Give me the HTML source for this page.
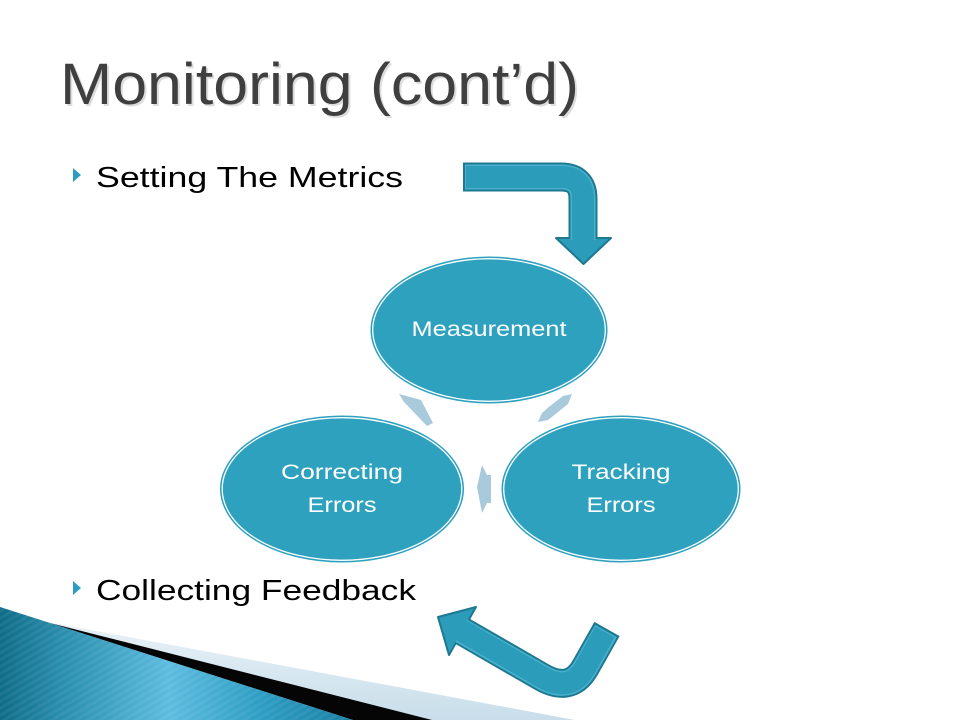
<!DOCTYPE html>
<html>
<head>
<meta charset="utf-8">
<style>
  html,body{margin:0;padding:0;background:#fff;}
  body{width:960px;height:720px;overflow:hidden;}
  svg{display:block;}
  text{font-family:"Liberation Sans","DejaVu Sans",sans-serif;}
</style>
</head>
<body>
<svg width="960" height="720" viewBox="0 0 960 720" xmlns="http://www.w3.org/2000/svg">
  <defs>
    <linearGradient id="tealg" x1="0" y1="0" x2="1" y2="0">
      <stop offset="0" stop-color="#0f6c88"/>
      <stop offset="0.18" stop-color="#2a8fae"/>
      <stop offset="0.48" stop-color="#5cbcdf"/>
      <stop offset="0.75" stop-color="#2c9cc2"/>
      <stop offset="1" stop-color="#1a80a3"/>
    </linearGradient>
    <linearGradient id="lightg" x1="0" y1="0" x2="0" y2="1">
      <stop offset="0" stop-color="#eef5f9"/>
      <stop offset="1" stop-color="#c8deea"/>
    </linearGradient>
    <pattern id="stripes" width="6" height="6" patternUnits="userSpaceOnUse" patternTransform="rotate(60)">
      <rect width="3" height="6" fill="#ffffff" opacity="0.06"/>
    </pattern>
  </defs>

  <!-- bottom-left decoration -->
  <polygon points="48,622 575,720 0,720 0,607" fill="url(#lightg)"/>
  <polygon points="50,623 432,720 353,720" fill="#050505"/>
  <polygon points="0,607 353,720 0,720" fill="url(#tealg)"/>
  <polygon points="0,607 353,720 0,720" fill="url(#stripes)"/>

  <!-- title -->
  <text x="62" y="106" font-size="58" fill="#c8c8c8" opacity="0.6" textLength="519" lengthAdjust="spacingAndGlyphs">Monitoring (cont’d)</text>
  <text x="60" y="104" font-size="58" fill="#3f3f3f" textLength="519" lengthAdjust="spacingAndGlyphs">Monitoring (cont’d)</text>

  <!-- bullets -->
  <polygon points="73,168 81,175 73,182" fill="#2e9cc0"/>
  <text x="96" y="187" font-size="29" fill="#000" textLength="307" lengthAdjust="spacingAndGlyphs">Setting The Metrics</text>
  <polygon points="73,581 81,588 73,595" fill="#2e9cc0"/>
  <text x="96" y="600" font-size="29" fill="#000" textLength="320" lengthAdjust="spacingAndGlyphs">Collecting Feedback</text>

  <!-- top bent arrow -->
  <path d="M463,177 L561,177 Q583,177 583,199 L583,240" fill="none" stroke="#1e7892" stroke-width="29"/>
  <polygon points="556,238 611,238 583.5,264" fill="#2b9dbb" stroke="#1e7892" stroke-width="2" stroke-linejoin="round"/>
  <path d="M465,177 L561,177 Q583,177 583,199 L583,241" fill="none" stroke="#48b1cc" stroke-width="25"/>
  <path d="M466,177 L561,177 Q583,177 583,199 L583,242" fill="none" stroke="#2b9dbb" stroke-width="22"/>
  <polygon points="561,240 606,240 583.5,261" fill="#2b9dbb"/>

  <!-- bottom bent arrow -->
  <path d="M462,631 L540,676 Q570,694 585,668 L607,629" fill="none" stroke="#1e7892" stroke-width="29"/>
  <polygon points="438,617 476,607 449,655" fill="#2b9dbb" stroke="#1e7892" stroke-width="2" stroke-linejoin="round"/>
  <path d="M460,630 L540,676 Q570,694 585,668 L606,631" fill="none" stroke="#48b1cc" stroke-width="25"/>
  <path d="M459,629 L540,676 Q570,694 585,668 L605,632" fill="none" stroke="#2b9dbb" stroke-width="22"/>
  <polygon points="442,618 472,610 451,650" fill="#2b9dbb"/>

  <!-- small cycle arrows -->
  <polygon points="399,394 421,400 433,423 427,426 404,402" fill="#a8cadb"/>
  <polygon points="572,394 563,396 550,406 542,413 538,422 548,420 568,404" fill="#a8cadb"/>
  <polygon points="482,465 487,475 491,475 491,503 487,503 482,513 477,487" fill="#a8cadb"/>

  <!-- ellipses -->
  <ellipse cx="489" cy="330" rx="118" ry="73" fill="#2ea1bf" stroke="#2ea1bf" stroke-width="1"/>
  <ellipse cx="489" cy="330" rx="116.3" ry="71.3" fill="#2ea1bf" stroke="#ffffff" stroke-width="1.3"/>
  <text x="489" y="336" font-size="21" fill="#ffffff" text-anchor="middle" textLength="155" lengthAdjust="spacingAndGlyphs">Measurement</text>

  <ellipse cx="342" cy="489" rx="121.5" ry="73" fill="#2ea1bf" stroke="#2ea1bf" stroke-width="1"/>
  <ellipse cx="342" cy="489" rx="119.8" ry="71.3" fill="#2ea1bf" stroke="#ffffff" stroke-width="1.3"/>
  <text x="342" y="479" font-size="21" fill="#ffffff" text-anchor="middle" textLength="122" lengthAdjust="spacingAndGlyphs">Correcting</text>
  <text x="342" y="512" font-size="21" fill="#ffffff" text-anchor="middle" textLength="69" lengthAdjust="spacingAndGlyphs">Errors</text>

  <ellipse cx="621" cy="489" rx="119" ry="73" fill="#2ea1bf" stroke="#2ea1bf" stroke-width="1"/>
  <ellipse cx="621" cy="489" rx="117.3" ry="71.3" fill="#2ea1bf" stroke="#ffffff" stroke-width="1.3"/>
  <text x="621" y="479" font-size="21" fill="#ffffff" text-anchor="middle" textLength="99" lengthAdjust="spacingAndGlyphs">Tracking</text>
  <text x="621" y="512" font-size="21" fill="#ffffff" text-anchor="middle" textLength="69" lengthAdjust="spacingAndGlyphs">Errors</text>
</svg>
</body>
</html>
